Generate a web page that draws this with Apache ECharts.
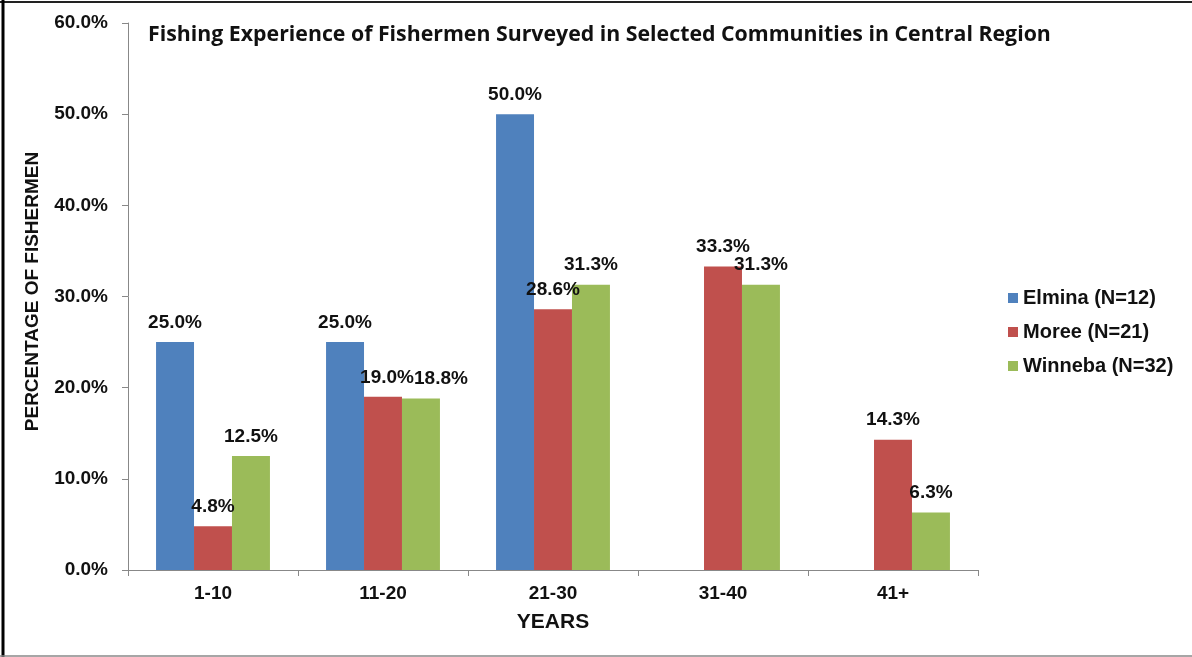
<!DOCTYPE html>
<html><head><meta charset="utf-8">
<script src="https://cdn.jsdelivr.net/npm/echarts@6/dist/echarts.min.js"></script>
<style>html,body{margin:0;padding:0;background:#fff}#c{width:1192px;height:657px}</style>
</head><body><div id="c"></div>
<script>
var categories = ['1-10', '11-20', '21-30', '31-40', '41+'];
var elmina = [25.0, 25.0, 50.0, null, null];
var moree = [4.8, 19.0, 28.6, 33.3, 14.3];
var winneba = [12.5, 18.8, 31.3, 31.3, 6.3];
var seriesNames = ['Elmina (N=12)', 'Moree (N=21)', 'Winneba (N=32)'];
var colors = ['#4F81BD', '#C0504D', '#9BBB59'];
var yTicks = [0, 10, 20, 30, 40, 50, 60];

var FONT = 'Liberation Sans, Arial';
var chart = echarts.init(document.getElementById('c'));
var lbl = {
  show: true, position: 'top', distance: 10,
  fontFamily: FONT, fontWeight: 'bold', fontSize: 19, color: '#111',
  formatter: function (p) { return p.value == null ? '' : p.value.toFixed(1) + '%'; }
};
// Nudge neighbouring labels apart when Moree and Winneba values are nearly equal (labels would collide)
function nudge(seriesIdx) {
  return function (params) {
    var i = params.dataIndex;
    var close = Math.abs(moree[i] - winneba[i]) < 1;
    if (!close) return {};
    return { dx: seriesIdx === 2 ? 20 : 4 };
  };
}
function mk(name, data, i) {
  var s = { name: name, type: 'bar', data: data, barGap: 0, barCategoryGap: '33%',
    itemStyle: { color: colors[i] }, label: lbl, emphasis: { disabled: true } };
  if (i > 0) s.labelLayout = nudge(i);
  return s;
}
chart.setOption({
  animation: false,
  title: {
    text: 'Fishing Experience of Fishermen Surveyed in Selected Communities in Central Region',
    left: 143, top: 19,
    textStyle: { fontFamily: 'Open Sans', fontWeight: 'bold', fontSize: 21.3, color: '#111' }
  },
  legend: {
    orient: 'vertical', left: 1003, top: 283, itemGap: 14, itemWidth: 10, itemHeight: 10,
    icon: 'rect',
    textStyle: { fontFamily: FONT, fontWeight: 'bold', fontSize: 20, color: '#111' },
    data: seriesNames
  },
  grid: { left: 128, right: 214, top: 23, bottom: 87, containLabel: false },
  xAxis: {
    type: 'category', data: categories,
    name: 'YEARS', nameLocation: 'middle', nameGap: 42,
    nameTextStyle: { fontFamily: FONT, fontWeight: 'bold', fontSize: 21, color: '#111' },
    axisLine: { lineStyle: { color: '#888', width: 1 } },
    axisTick: { show: true, length: 6, lineStyle: { color: '#888' } },
    axisLabel: { margin: 14, fontFamily: FONT, fontWeight: 'bold', fontSize: 19, color: '#111' }
  },
  yAxis: {
    type: 'value', min: yTicks[0], max: yTicks[yTicks.length - 1], interval: 10,
    name: 'PERCENTAGE OF FISHERMEN', nameLocation: 'middle', nameGap: 86, nameRotate: 90,
    nameTextStyle: { fontFamily: FONT, fontWeight: 'bold', fontSize: 19, color: '#111', padding: [0, 0, 0, 10] },
    axisLine: { show: true, lineStyle: { color: '#888', width: 1 } },
    axisTick: { show: true, length: 6, lineStyle: { color: '#888' } },
    splitLine: { show: false },
    axisLabel: { margin: 20, fontFamily: FONT, fontWeight: 'bold', fontSize: 19, color: '#111',
      formatter: function (v) { return v.toFixed(1) + '%'; } }
  },
  graphic: [
    { type: 'line', shape: { x1: 0, y1: 2, x2: 1192, y2: 2 }, style: { stroke: '#222', lineWidth: 2 } },
    { type: 'line', shape: { x1: 3, y1: 0, x2: 3, y2: 657 }, style: { stroke: '#000', lineWidth: 3 } },
    { type: 'line', shape: { x1: 0, y1: 656, x2: 1192, y2: 656 }, style: { stroke: '#888', lineWidth: 1.5 } }
  ],
  series: [mk(seriesNames[0], elmina, 0), mk(seriesNames[1], moree, 1), mk(seriesNames[2], winneba, 2)]
});
</script></body></html>
